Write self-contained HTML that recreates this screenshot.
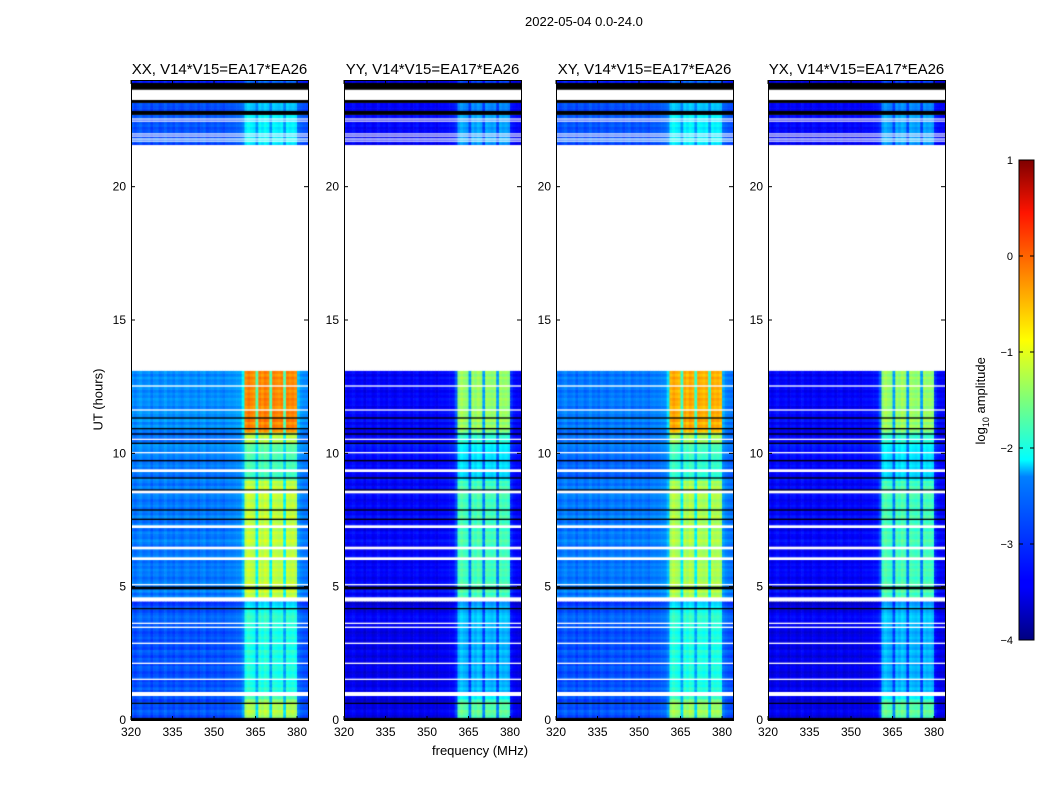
<!DOCTYPE html>
<html><head><meta charset="utf-8"><style>
body{margin:0;background:#fff;width:1050px;height:800px;position:relative;overflow:hidden;font-family:"Liberation Sans",sans-serif;}
.t{position:absolute;white-space:nowrap;color:#000}
canvas{position:absolute;z-index:1}
#svg{z-index:2}
</style></head><body>
<svg id="svg" width="1050" height="800" style="position:absolute;left:0;top:0">
<defs><linearGradient id="jet" x1="0" y1="1" x2="0" y2="0">
<stop offset="0" stop-color="#00007f"/><stop offset="0.11" stop-color="#0000ff"/><stop offset="0.125" stop-color="#0000ff"/><stop offset="0.34" stop-color="#0080ff"/><stop offset="0.375" stop-color="#00ffff"/><stop offset="0.5" stop-color="#7dff7a"/><stop offset="0.625" stop-color="#ffff00"/><stop offset="0.66" stop-color="#ffe000"/><stop offset="0.89" stop-color="#ff1400"/><stop offset="1" stop-color="#7f0000"/></linearGradient></defs>
</svg>
<div class="t" style="left:525px;top:14px;font-size:13px">2022-05-04 0.0-24.0</div>
<div class="t" style="left:432px;top:743px;font-size:13px">frequency (MHz)</div>
<div class="t" style="left:60px;top:392px;font-size:13px;transform:rotate(-90deg);width:76px;text-align:center">UT (hours)</div>
<div class="t" style="left:932px;top:392px;font-size:13px;transform:rotate(-90deg);width:100px;text-align:center">log<sub style="font-size:9px">10</sub> amplitude</div>
<script>
const titles=["XX, V14*V15=EA17*EA26","YY, V14*V15=EA17*EA26","XY, V14*V15=EA17*EA26","YX, V14*V15=EA17*EA26"];
const panelLefts=[131,344,556,768];
const xTicks=[320,335,350,365,380];
const yTicks=[0,5,10,15,20];
const cbTicks=[1,0,-1,-2,-3,-4];
// band profile per 1 MHz channel 320..383
const bandProfile=[0,0,0,0,0,0,0,0,0,0,0,0,0,0,0,0,0,0,0,0,0,0,0,0,0,0,0,0,0,0,0,0,0,0,0,0,0,0,0,0,
 0.2,1,1,1,1,0.4,1,1,1,1,0.4,1,1,1,1,0.4,1,1,1,1,0.1,0,0,0];
const chanTexture=[0.1,-0.1,0.05,0.15,-0.05,0,0.1,-0.15,0.05,0.1,-0.1,0,0.15,-0.05,0.05,-0.1,0.1,0,-0.1,0.05,0.1,-0.05,0,0.1,-0.1,0.05,0.15,-0.1,0,0.05,-0.05,0.1,0,-0.1,0.05,0.1,0.05,0.1,0.15,0.2,
 0.1,-0.05,0.15,0,-0.1,0,0.1,-0.1,0.15,0,0,0.1,0,-0.1,0.05,0,0.1,-0.05,0.05,-0.1,0.05,0.1,0,-0.05];
// time segments
const segStarts=[0,0.8,1.05,4.2,4.6,9.0,10.4,10.8,21.56,22.84,23.89];
const segEnds=[0.8,0.9,4.2,4.45,9.0,10.4,10.8,13.1,22.69,23.14,24];
const bgLevels=[[-3.0,-3.0,-3.0,-3.1,-2.8,-2.8,-2.9,-2.7,-3.0,-3.1,-3.2],[-3.5,-3.5,-3.5,-3.6,-3.4,-3.4,-3.5,-3.4,-3.4,-3.5,-3.5],[-3.0,-3.0,-3.0,-3.1,-2.8,-2.9,-2.9,-2.8,-3.0,-3.1,-3.2],[-3.5,-3.5,-3.5,-3.6,-3.4,-3.4,-3.5,-3.4,-3.4,-3.5,-3.5]];
const bandLevels=[[-1.3,-1.8,-2.0,-2.3,-1.2,-1.8,-1.3,-0.3,-2.2,-2.5,-2.8],[-1.7,-2.2,-2.5,-2.6,-1.8,-2.3,-2.0,-1.4,-2.6,-2.8,-3.0],[-1.4,-1.9,-2.0,-2.3,-1.3,-1.9,-1.4,-0.5,-2.2,-2.5,-2.8],[-1.7,-2.2,-2.5,-2.6,-1.8,-2.3,-2.0,-1.4,-2.6,-2.8,-3.0]];
// missing (white) intervals and flagged (black) rows
const gapStarts=[0.9,1.5,2.1,2.85,3.45,3.6,4.45,5.05,6.0,6.4,7.2,8.5,9.3,10.0,10.5,11.6,12.5,13.1,21.69,21.77,21.88,21.96,22.44,22.52,23.25];
const gapEnds=[1.05,1.55,2.15,2.9,3.5,3.65,4.6,5.1,6.1,6.5,7.3,8.6,9.4,10.05,10.55,11.65,12.55,21.56,21.73,21.81,21.92,22.0,22.48,22.56,23.63];
const blackStarts=[0,0.6,4.15,4.9,7.5,7.85,8.6,9.05,9.7,10.35,10.7,10.9,11.3,22.69,23.14,23.63];
const blackEnds=[0.08,0.65,4.2,5.0,7.55,7.9,8.65,9.1,9.75,10.4,10.75,10.95,11.35,22.84,23.25,23.89];
const VMIN=-4,VMAX=1;
const fx=f=>(f-320)*2.767;           // panel-relative x
const ty=t=>(24-t)*26.667;          // panel-relative y
const PT=80,PH=640,PW=177;
function jet(v){let t=Math.max(0,Math.min(1,(v-VMIN)/(VMAX-VMIN)));
 const r=Math.max(0,Math.min(1,1.5-Math.abs(4*t-3))),g=Math.max(0,Math.min(1,1.5-Math.abs(4*t-2))),b=Math.max(0,Math.min(1,1.5-Math.abs(4*t-1)));
 return `rgb(${r*255|0},${g*255|0},${b*255|0})`;}
const svg=document.getElementById('svg');const NS='http://www.w3.org/2000/svg';
function mk(tag,attrs){const e=document.createElementNS(NS,tag);for(const k in attrs)e.setAttribute(k,attrs[k]);svg.appendChild(e);return e;}
function txt(x,y,s,size,anchor){const e=mk('text',{x:x,y:y,'font-size':size,'text-anchor':anchor,'font-family':'Liberation Sans, sans-serif'});e.textContent=s;return e;}
panelLefts.forEach((L,p)=>{
 const c=document.createElement('canvas');c.width=PW;c.height=PH;c.style.left=L+'px';c.style.top=PT+'px';
 
 
 document.body.appendChild(c);const ctx=c.getContext('2d');
 for(let s=0;s<segStarts.length;s++){
  const step=0.1;
  for(let t=segStarts[s];t<segEnds[s]-1e-9;t+=step){
   const t2=Math.min(t+step,segEnds[s]);
   const rowTex=chanTexture[Math.round(t*10)%chanTexture.length]*0.8;
   for(let ch=0;ch<bandProfile.length;ch++){
    const bg=bgLevels[p][s],bd=bandLevels[p][s];
    const v=bg+(bd-bg)*bandProfile[ch]+chanTexture[ch]*0.6+rowTex;
    ctx.fillStyle=jet(v);
    const x0=fx(320+ch),x1=fx(321+ch);
    ctx.fillRect(x0,ty(t2),x1-x0+0.6,ty(t)-ty(t2)+0.6);
   }
  }
 }
 ctx.fillStyle='#000';
 blackStarts.forEach((b,i)=>{ctx.fillRect(0,ty(blackEnds[i]),PW,Math.max(1.3,ty(b)-ty(blackEnds[i])));});
 ctx.fillStyle='#fff';
 gapStarts.forEach((g,i)=>{if(gapEnds[i]>g)ctx.fillRect(0,ty(gapEnds[i]),PW,Math.max(1.2,ty(g)-ty(gapEnds[i])));});
 const fr=mk('rect',{x:L+0.5,y:PT+0.5,width:PW,height:PH,fill:'none',stroke:'#000','stroke-width':1});
 
 
 const tt=txt(L+PW/2,74,titles[p],15,'middle');
 
 
 xTicks.forEach(v=>{const x=L+fx(v);
  mk('line',{x1:x,y1:PT+PH,x2:x,y2:PT+PH-4,stroke:'#000'});mk('line',{x1:x,y1:PT,x2:x,y2:PT+4,stroke:'#000'});
  const e=txt(x,PT+PH+16,String(v),12,'middle');
  
  });
 yTicks.forEach(v=>{const y=PT+ty(v);
  mk('line',{x1:L,y1:y,x2:L+4,y2:y,stroke:'#000'});mk('line',{x1:L+PW,y1:y,x2:L+PW-4,y2:y,stroke:'#000'});
  const e=txt(L-5,y+4,String(v),12,'end');
  
  });
});
const cbX=1019,cbW=15,cbT=160,cbH=480;
const cb=mk('rect',{x:cbX,y:cbT,width:cbW,height:cbH,fill:'url(#jet)',stroke:'#000'});


cbTicks.forEach(v=>{const y=cbT+(VMAX-v)/(VMAX-VMIN)*cbH;
 mk('line',{x1:cbX,y1:y,x2:cbX+4,y2:y,stroke:'#000'});mk('line',{x1:cbX+cbW,y1:y,x2:cbX+cbW-4,y2:y,stroke:'#000'});
 const e=txt(cbX-6,y+4,v<0?'\u2212'+(-v):String(v),11,'end');
 
 });
</script>
</body></html>
